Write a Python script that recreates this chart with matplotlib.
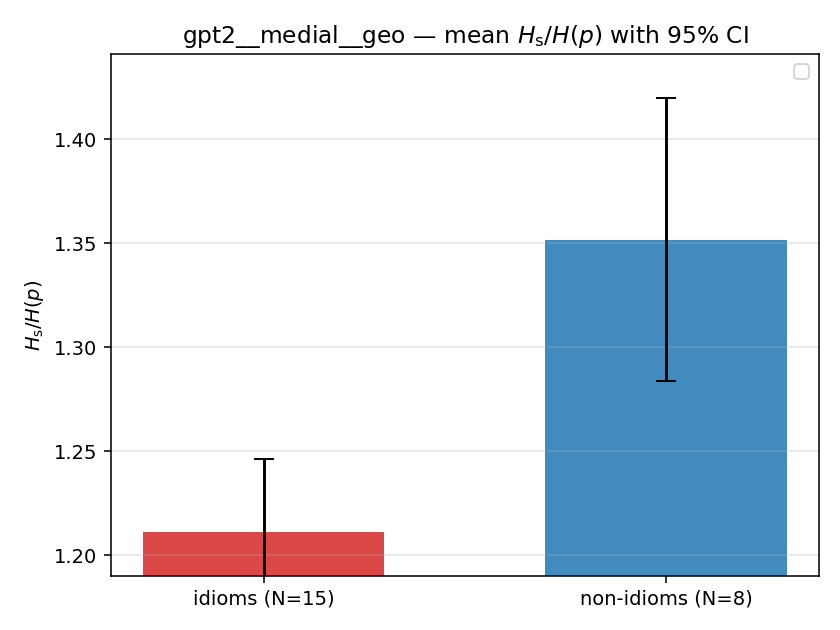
import numpy as np
import matplotlib.pyplot as plt

groups = ["idioms (N=15)", "non-idioms (N=8)"]
means = [1.211, 1.3515]
ci_low = [1.176, 1.2837]
ci_high = [1.2462, 1.4197]
colors = ["#d62728", "#1f77b4"]

x = np.arange(len(groups))
err = np.array([
    [m - lo for m, lo in zip(means, ci_low)],
    [hi - m for m, hi in zip(means, ci_high)],
])

fig, ax = plt.subplots(figsize=(6, 4.5), dpi=140)
ax.bar(x, means, width=0.6, color=colors, alpha=0.85)
ax.errorbar(x, means, yerr=err, fmt="none", ecolor="black", capsize=5, elinewidth=1.5)
ax.set_xticks(x)
ax.set_xticklabels(groups)
ax.set_ylabel(r"$H_\mathrm{s}/H(p)$")
ax.set_title(r"gpt2__medial__geo — mean $H_\mathrm{s}/H(p)$ with 95% CI")
ax.set_ylim(1.19, 1.441)
ax.grid(axis="y", alpha=0.3)
ax.legend()
fig.subplots_adjust(left=0.132, right=0.975, top=0.914, bottom=0.086)
fig.savefig("out.png")
